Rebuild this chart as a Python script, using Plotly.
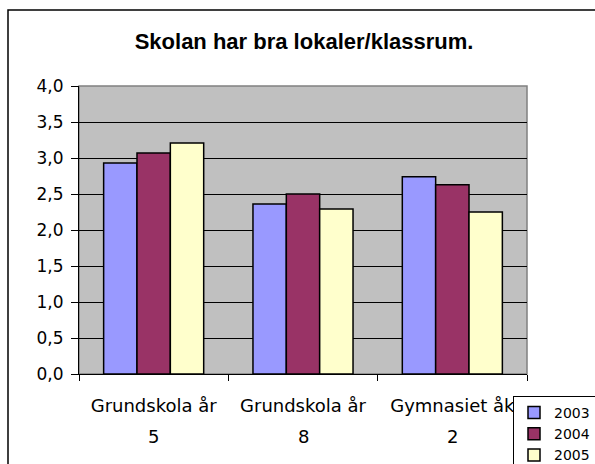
import plotly.graph_objects as go

# Survey averages per school level and year
categories = ["Grundskola år 5", "Grundskola år 8", "Gymnasiet åk 2"]
years = ["2003", "2004", "2005"]
values_2003 = [2.93, 2.36, 2.74]
values_2004 = [3.07, 2.50, 2.63]
values_2005 = [3.21, 2.29, 2.25]
series = [values_2003, values_2004, values_2005]
colors = ["#9999FF", "#993366", "#FFFFCC"]
y_ticks = [0, 0.5, 1.0, 1.5, 2.0, 2.5, 3.0, 3.5, 4.0]

title_text = "Skolan har bra lokaler/klassrum."
y_font = dict(family="DejaVu Sans", size=17, color="black")
x_font = dict(family="DejaVu Sans", size=18, color="black")

fig = go.Figure()
for year, vals, col in zip(years, series, colors):
    fig.add_trace(go.Bar(
        x=categories, y=vals, name=year,
        marker=dict(color=col, line=dict(color="black", width=1.5)),
    ))

# first line of each category label on the axis, second line below it
first_lines = [c.rsplit(" ", 1)[0] for c in categories]
second_lines = [c.rsplit(" ", 1)[1] for c in categories]

annotations = [
    dict(x=c, y=-0.218, xref="x", yref="paper", text=s, showarrow=False,
         font=x_font, xanchor="center", yanchor="middle")
    for c, s in zip(categories, second_lines)
]

fig.update_layout(
    width=595, height=464,
    margin=dict(l=79, r=68, t=86, b=90, autoexpand=False),
    paper_bgcolor="white",
    plot_bgcolor="#C0C0C0",
    separators=",.",
    barmode="group",
    bargap=0.33,
    bargroupgap=0,
    title=dict(text="<b>" + title_text + "</b>", x=0.511, xanchor="center",
               y=0.912, yanchor="middle",
               font=dict(family="Liberation Sans", size=22, color="black")),
    xaxis=dict(
        type="category",
        tickvals=categories, ticktext=first_lines,
        tickson="boundaries", ticks="outside", ticklen=6, tickcolor="black",
        showline=True, linecolor="black", linewidth=1,
        showgrid=False, tickfont=x_font, ticklabelstandoff=15,
    ),
    yaxis=dict(
        range=[0, 4], tickvals=y_ticks, tickformat=".1f",
        ticks="outside", ticklen=7, tickcolor="black",
        showline=True, linecolor="black", linewidth=1,
        showgrid=True, gridcolor="black", gridwidth=1, zeroline=False,
        tickfont=y_font, ticklabelstandoff=4,
    ),
    legend=dict(
        x=(513 - 79) / 448, y=(374 - 396) / 288, xanchor="left", yanchor="top",
        bordercolor="black", borderwidth=1, bgcolor="white",
        font=dict(family="DejaVu Sans", size=14, color="black"),
        itemwidth=30,
    ),
    annotations=annotations,
    shapes=[
        # plot area frame (top/right in grey)
        dict(type="rect", xref="paper", yref="paper", x0=0, x1=1, y0=0, y1=1,
             line=dict(color="#808080", width=1.5), layer="between"),
        # chart outer frame
        dict(type="rect", xref="paper", yref="paper",
             x0=(8 - 79) / 448, x1=(620 - 79) / 448,
             y0=(374 - 490) / 288, y1=(374 - 10) / 288,
             line=dict(color="black", width=1.5), layer="below"),
    ],
)

fig.write_html("out.html")
